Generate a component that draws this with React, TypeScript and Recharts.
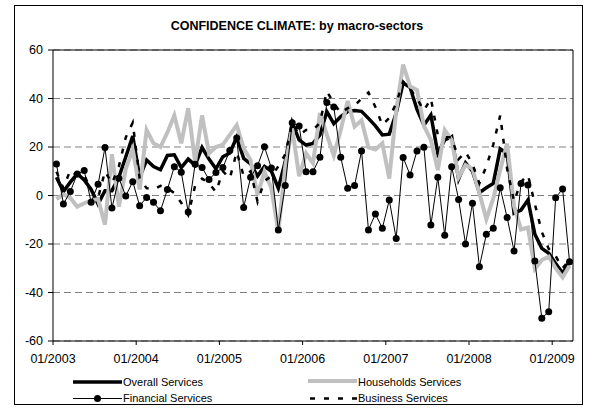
import React from 'react';
import { LineChart, Line, XAxis, YAxis, CartesianGrid, ReferenceLine } from 'recharts';

// monthly series, 01/2003 .. 03/2009
const tickLabels = ['01/2003', '01/2004', '01/2005', '01/2006', '01/2007', '01/2008', '01/2009'];

const overall = [
  7.5, 1.6, 5.5, 9, 6.4, 2.5, -3.5, 2, 2, 7.5, 16, 24.5,
  7.5, 14.6, 11.9, 10.6, 16.5, 16.8, 11.5, 15, 12.5, 19.8, 15, 11,
  16, 17.5, 24, 15.3, 13, 8, 12, 10, 3, 14, 30, 22.9,
  20.8, 21.5, 25, 34.6, 29.6, 32.5, 34.6, 35, 34.7, 31.8, 28.7, 25,
  25.3, 34, 46.4, 44.6, 35.5, 29, 33.2, 17.4, 22.9, 24.3, 6.8, 13.5,
  10, 1.2, 3.2, 5, 19.2, 17.4, -7.3, -6, -1.9, -16, -21.8, -23.8,
  -28, -32, -27.3,
];

const households = [
  -1.5, 0.5, -1, -4.6, -3.2, -2, -1.5, -12, 17, -4.6, 11, 19,
  2.5, 27, 21.5, 20, 26, 33, 21.5, 36, 14, 33, 17.4, 20,
  21, 25, 29, 19.5, 14.6, 0.2, 9.8, 3, -15, 12, 27.7, 8,
  17.4, 13.3, 34, 25, 16.5, 27, 39, 28.4, 31, 19.8, 19, 21.5,
  7, 35, 54, 45, 43.5, 28.7, 22.9, 10.5, 27, 22.9, 7.5, 12.6,
  11, 1, -9.8, -1.2, 10.5, 21.4, -4.5, -14, -13.2, -30.3, -26.6, -25.2,
  -30, -33.8, -29,
];

const financial = [
  13, -3.5, 1.6, 8.9, 10.3, -2.8, 4.6, 19.8, -5.2, 7.1, -0.2, 5.7,
  -4.2, -0.8, -2.8, -6.3, 2.5, 11.9, 9.6, -6.8, 12.9, 11.5, 6.6, 9.5,
  11.5, 18.6, 23.7, -4.9, 7.5, 12.3, 20.1, 11.3, -14.2, 4.1, 30, 28.7,
  9.8, 9.8, 15.8, 38.4, 36.5, 15.8, 3, 4.1, 18.4, -14.2, -7.6, -13.5,
  -1.9, -17.7, 15.7, 8.5, 18.4, 19.9, -12.2, 7.5, -16.4, 11.9, -1.6, -20,
  -3.2, -29.4, -16, -13.5, 3.2, -9.1, -22.9, 5, 4.3, -27, -50.6, -47.9,
  -0.9, 2.7, -27.3,
];

const business = [
  9.8, 3, 10.5, 8, 8.5, 2, -1, 10, 5, 12, 24, 30,
  7, 3, 2.5, 4, 3, 1, -3, -8, 4, 7, 5, 1.5,
  10, 7, 18, 8, 10, -2.5, 6, 8, 12, 17, 30, 25,
  27, 27, 30, 43, 38, 34, 36, 37, 40, 42.5, 36.5, 29,
  32, 38, 47, 44, 40, 35, 40, 25, 24, 24, 15, 18,
  13, 5, 12, 21, 33, 11, -2.5, 5.7, 8.5, -3.5, -15, -22,
  -25, -30, -26.6,
];

const data = overall.map((v, i) => ({
  x: i + 0.5,
  overall: v,
  households: households[i],
  financial: financial[i],
  business: business[i],
}));

const FONT = '"Liberation Sans", Arial, sans-serif';

const ChartLegend = () => (
  <svg width={594} height={38} style={{ position: 'absolute', left: 0, top: 370 }}>
    <g fontFamily={FONT} fontSize={11} fill="#000">
      <line x1={73} x2={122} y1={12} y2={12} stroke="#000" strokeWidth={3.5} />
      <text x={123} y={16}>Overall Services</text>
      <line x1={308} x2={357} y1={11} y2={11} stroke="#c0c0c0" strokeWidth={4} />
      <text x={358} y={16}>Households Services</text>
      <line x1={73} x2={122} y1={28.5} y2={28.5} stroke="#000" strokeWidth={1} />
      <circle cx={97.5} cy={28.5} r={3.5} fill="#000" />
      <text x={123} y={32}>Financial Services</text>
      <line x1={310} x2={357} y1={28.5} y2={28.5} stroke="#000" strokeWidth={2.5} strokeDasharray="5 9" />
      <text x={358} y={32}>Business Services</text>
    </g>
  </svg>
);

export default function App() {
  return (
    <div style={{ position: 'absolute', left: 0, top: 0, width: 594, height: 408, background: '#fff', fontFamily: FONT }}>
      <div
        style={{
          position: 'absolute', left: 14, top: 5, width: 569, height: 400,
          border: '1px solid #000', boxSizing: 'border-box',
        }}
      />
      <div
        style={{
          position: 'absolute', left: 0, top: 19, width: 594, textAlign: 'center',
          fontWeight: 'bold', fontSize: 12.5,
        }}
      >
        CONFIDENCE CLIMATE: by macro-sectors
      </div>
      <div style={{ position: 'absolute', left: 0, top: 0 }}>
        <LineChart width={594} height={408} data={data} margin={{ top: 50, right: 21, bottom: 37, left: 0 }}>
          <CartesianGrid vertical={false} stroke="#808080" strokeDasharray="7 4" />
          <XAxis
            type="number"
            dataKey="x"
            domain={[0, 75]}
            ticks={[0, 12, 24, 36, 48, 60, 72]}
            tickFormatter={(v: number) => tickLabels[v / 12]}
            height={30}
            tickSize={4}
            tickMargin={9}
            axisLine={{ stroke: '#000' }}
            tickLine={{ stroke: '#000' }}
            tick={{ fill: '#000', fontSize: 12.5, fontFamily: FONT }}
            interval={0}
          />
          <YAxis
            domain={[-60, 60]}
            ticks={[-60, -40, -20, 0, 20, 40, 60]}
            width={53}
            tickSize={5}
            tickMargin={5}
            axisLine={{ stroke: '#000' }}
            tickLine={{ stroke: '#000' }}
            tick={{ fill: '#000', fontSize: 12.5, fontFamily: FONT }}
            interval={0}
          />
          <ReferenceLine y={60} stroke="#000" />
          <ReferenceLine x={75} stroke="#000" />
          <Line dataKey="overall" stroke="#000" strokeWidth={3.5} dot={false} isAnimationActive={false} />
          <Line dataKey="households" stroke="#c0c0c0" strokeWidth={4} dot={false} isAnimationActive={false} />
          <Line
            dataKey="financial"
            stroke="#000"
            strokeWidth={1}
            dot={{ r: 3.5, fill: '#000', stroke: 'none' }}
            isAnimationActive={false}
          />
          <Line
            dataKey="business"
            stroke="#000"
            strokeWidth={2.5}
            strokeDasharray="5 9"
            dot={false}
            isAnimationActive={false}
          />
        </LineChart>
      </div>
      <ChartLegend />
    </div>
  );
}
